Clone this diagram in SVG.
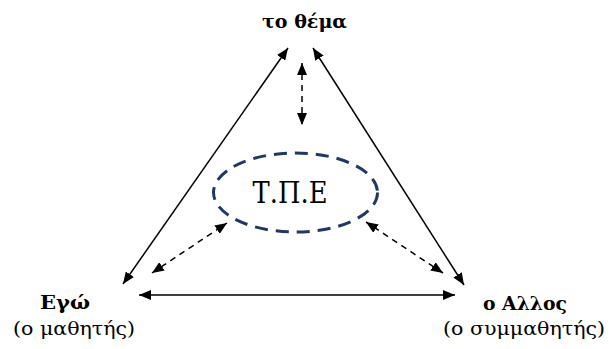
<svg xmlns="http://www.w3.org/2000/svg" width="609" height="349" viewBox="0 0 609 349">
<style>
text{font-family:'DejaVu Serif',serif;fill:#000;text-anchor:middle}
.b{font-weight:bold;font-size:19px}
.r{font-size:19px}
.solid{stroke:#000;stroke-width:1.5;fill:none}
.dash{stroke:#000;stroke-width:1.5;fill:none;stroke-dasharray:6,5}
</style>
<defs>
<marker id="ah" viewBox="0 0 12 10" refX="12" refY="5" markerWidth="12" markerHeight="10" markerUnits="userSpaceOnUse" orient="auto-start-reverse">
<path d="M0,0 L12,5 L0,10 z" fill="#000"/>
</marker>
</defs>
<rect width="609" height="349" fill="#fff"/>
<g id="connectors">
<line class="solid" x1="123" y1="284" x2="288" y2="48" marker-start="url(#ah)" marker-end="url(#ah)"/>
<line class="solid" x1="464" y1="285" x2="313" y2="48" marker-start="url(#ah)" marker-end="url(#ah)"/>
<line class="solid" x1="139" y1="295" x2="455" y2="295" marker-start="url(#ah)" marker-end="url(#ah)"/>
<line class="dash" x1="302" y1="63" x2="302" y2="125" marker-start="url(#ah)" marker-end="url(#ah)"/>
<line class="dash" x1="152" y1="273" x2="227" y2="223" marker-start="url(#ah)" marker-end="url(#ah)"/>
<line class="dash" x1="443" y1="273" x2="366" y2="222" marker-start="url(#ah)" marker-end="url(#ah)"/>
</g>
<g id="node-thema">
<text class="b" x="304.5" y="28" textLength="85" lengthAdjust="spacingAndGlyphs">το θέμα</text>
</g>
<g id="node-tpe">
<ellipse cx="295.5" cy="192.5" rx="82" ry="39.5" fill="none" stroke="#1F3864" stroke-width="3" stroke-dasharray="13,8"/>
<text x="290" y="203" font-size="30" textLength="75" lengthAdjust="spacingAndGlyphs">Τ.Π.Ε</text>
</g>
<g id="node-ego">
<text class="b" x="65" y="309" textLength="50" lengthAdjust="spacingAndGlyphs">Εγώ</text>
<text class="r" x="74" y="335" textLength="122" lengthAdjust="spacingAndGlyphs">(ο μαθητής)</text>
</g>
<g id="node-allos">
<text class="b" x="525" y="310" textLength="84" lengthAdjust="spacingAndGlyphs">ο Αλλος</text>
<text class="r" x="524" y="335" textLength="162" lengthAdjust="spacingAndGlyphs">(ο συμμαθητής)</text>
</g>
</svg>
